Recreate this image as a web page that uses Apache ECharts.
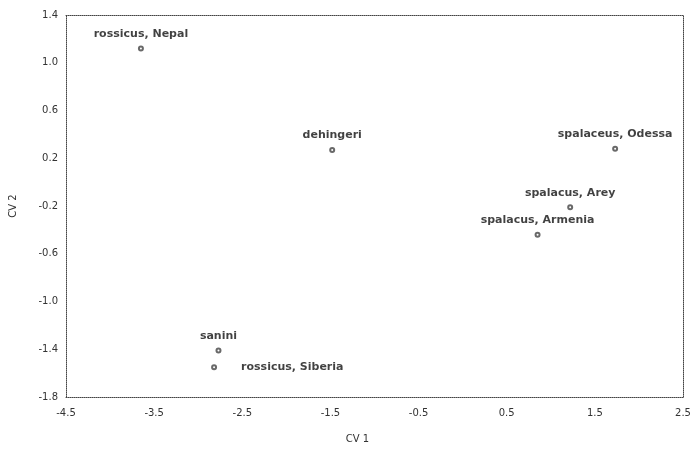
<!DOCTYPE html>
<html>
<head>
<meta charset="utf-8">
<title>Canonical variates</title>
<script src="https://cdn.jsdelivr.net/npm/echarts@6/dist/echarts.min.js"></script>
<style>
  html, body { margin: 0; padding: 0; background: #fff; }
  #chart { width: 697px; height: 449px; }
</style>
</head>
<body>
<div id="chart"></div>
<script>
// Group centroids on the first two canonical variates
const groups = ['rossicus, Nepal', 'dehingeri', 'spalaceus, Odessa', 'spalacus, Arey', 'spalacus, Armenia', 'sanini', 'rossicus, Siberia'];
const cv1 = [-3.65, -1.48, 1.73, 1.22, 0.85, -2.77, -2.82];
const cv2 = [1.12, 0.27, 0.28, -0.21, -0.44, -1.41, -1.55];
// where each name sits relative to its marker
const labelSide = ['top', 'top', 'top', 'top', 'top', 'top', 'right'];

// Labelled ticks on each axis
const xTicks = [-4.5, -3.5, -2.5, -1.5, -0.5, 0.5, 1.5, 2.5];
const yTicks = [-1.8, -1.4, -1.0, -0.6, -0.2, 0.2, 0.6, 1.0, 1.4];

const labelFont = 'DejaVu Sans, Verdana, sans-serif';
const frameLine = { show: true, onZero: false, lineStyle: { color: '#444', type: 'dotted', width: 1 } };

function tickFormatter(ticks) {
  return function (v) {
    const hit = ticks.find(t => Math.abs(t - v) < 1e-6);
    return hit === undefined ? '' : hit.toFixed(1);
  };
}

const points = groups.map((g, i) => ({
  name: g,
  value: [cv1[i], cv2[i]],
  label: {
    position: labelSide[i],
    distance: labelSide[i] === 'right' ? 24 : 6
  }
}));

const chart = echarts.init(document.getElementById('chart'), null, { renderer: 'canvas' });
chart.setOption({
  animation: false,
  backgroundColor: '#fff',
  grid: { left: 65, right: 14, top: 15, bottom: 52, containLabel: false },
  xAxis: [{
    type: 'value',
    min: xTicks[0],
    max: xTicks[xTicks.length - 1],
    interval: 0.5,
    name: 'CV 1',
    nameLocation: 'middle',
    nameGap: 37,
    nameTextStyle: { color: '#333', fontFamily: labelFont, fontSize: 10, padding: [0, 34, 0, 0] },
    axisLine: frameLine,
    axisTick: { show: false },
    splitLine: { show: false },
    axisLabel: {
      color: '#333', fontFamily: labelFont, fontSize: 10, margin: 11,
      showMinLabel: true, showMaxLabel: true,
      formatter: tickFormatter(xTicks)
    }
  }, {
    type: 'value',
    position: 'top',
    min: xTicks[0],
    max: xTicks[xTicks.length - 1],
    axisLine: frameLine,
    axisTick: { show: false },
    axisLabel: { show: false },
    splitLine: { show: false }
  }],
  yAxis: [{
    type: 'value',
    min: yTicks[0],
    max: yTicks[yTicks.length - 1],
    interval: 0.2,
    name: 'CV 2',
    nameLocation: 'middle',
    nameGap: 48,
    nameRotate: 90,
    nameTextStyle: { color: '#333', fontFamily: labelFont, fontSize: 10 },
    axisLine: frameLine,
    axisTick: { show: false },
    splitLine: { show: false },
    axisLabel: {
      color: '#333', fontFamily: labelFont, fontSize: 10, margin: 8,
      showMinLabel: true, showMaxLabel: true,
      formatter: tickFormatter(yTicks)
    }
  }, {
    type: 'value',
    position: 'right',
    min: yTicks[0],
    max: yTicks[yTicks.length - 1],
    axisLine: frameLine,
    axisTick: { show: false },
    axisLabel: { show: false },
    splitLine: { show: false }
  }],
  series: [{
    type: 'scatter',
    xAxisIndex: 0,
    yAxisIndex: 0,
    symbol: 'emptyCircle',
    symbolSize: 4,
    itemStyle: { color: '#444', borderColor: '#444', borderWidth: 1 },
    label: {
      show: true,
      formatter: p => p.name,
      color: '#111',
      fontFamily: labelFont,
      fontSize: 11,
      fontWeight: 'bold'
    },
    data: points
  }]
});
</script>
</body>
</html>
